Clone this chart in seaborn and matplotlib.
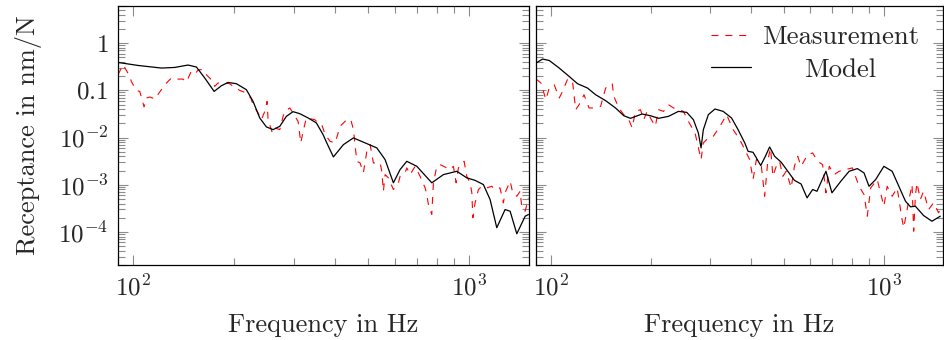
import numpy as np
import pandas as pd
import matplotlib
matplotlib.use("Agg")
import matplotlib.pyplot as plt
from matplotlib.ticker import NullFormatter, LogLocator
import seaborn as sns

# ---------------- data ----------------
left_model_f = [90.0, 103.3, 121.2, 132.8, 145.5, 154.1, 163.2, 174.0, 182.9, 191.5, 202.7,
                217.1, 227.3, 237.9, 249.0, 260.7, 273.0, 285.6, 299.0, 313.1, 331.5, 350.9,
                367.4, 376.8, 394.3, 422.4, 452.3, 495.9, 531.1, 562.1, 595.0, 623.0, 652.3,
                698.7, 774.3, 838.5, 919.3, 984.3, 1042, 1103, 1155, 1209, 1280, 1325, 1387,
                1469, 1502]
left_model_r = [0.389, 0.336, 0.296, 0.305, 0.343, 0.311, 0.182, 0.0948, 0.125, 0.147, 0.138,
                0.103, 0.0582, 0.0260, 0.0168, 0.0147, 0.0173, 0.0281, 0.0353, 0.0320, 0.0260,
                0.0204, 0.0115, 0.00769, 0.00389, 0.00708, 0.00982, 0.00743, 0.00603, 0.00341,
                0.00110, 0.00210, 0.00314, 0.00246, 0.00110, 0.00164, 0.00193, 0.00140,
                0.00124, 0.00101, 0.000486, 0.000123, 0.000299, 0.000275, 0.0000916,
                0.000216, 0.000234]

left_meas_f = [90.0, 93.2, 97.6, 98.6, 102.1, 104.5, 107.6, 109.3, 111.9, 115.8, 121.2, 124.0,
               129.8, 134.3, 140.6, 143.8, 148.3, 152.4, 155.9, 161.3, 165.0, 172.7, 174.7,
               178.7, 187.2, 193.7, 198.2, 207.5, 214.7, 223.8, 227.3, 235.2, 240.6, 246.3,
               250.2, 251.9, 259.5, 263.8, 273.0, 279.2, 282.5, 292.3, 299.0, 309.5, 315.3,
               320.3, 327.6, 347.0, 354.9, 364.1, 372.5, 385.4, 399.0, 412.9, 432.3, 444.3,
               452.3, 463.0, 473.5, 484.3, 495.9, 507.2, 518.8, 543.2, 549.5, 555.6, 562.1,
               575.0, 595.0, 615.8, 623.0, 644.8, 652.3, 667.3, 690.5, 714.5, 739.5, 748.2,
               756.5, 774.3, 782.9, 801.4, 819.7, 858.2, 877.9, 898.0, 914.9, 929.3, 966.2,
               984.3, 1007, 1019, 1026, 1042, 1066, 1091, 1129, 1169, 1194, 1236, 1265, 1280,
               1325, 1349, 1387, 1419, 1436, 1469, 1502]
left_meas_r = [0.214, 0.348, 0.197, 0.154, 0.0995, 0.0948, 0.0444, 0.0687, 0.0722, 0.0655,
               0.103, 0.131, 0.182, 0.173, 0.173, 0.150, 0.239, 0.214, 0.273, 0.273, 0.214,
               0.154, 0.121, 0.143, 0.143, 0.138, 0.121, 0.0995, 0.0903, 0.0687, 0.0496,
               0.0331, 0.0239, 0.0358, 0.0582, 0.0239, 0.0125, 0.0160, 0.0147, 0.0281, 0.0358,
               0.0423, 0.0331, 0.0220, 0.00769, 0.0135, 0.0260, 0.0239, 0.0204, 0.0187,
               0.0115, 0.00831, 0.00769, 0.0173, 0.0239, 0.0239, 0.0147, 0.00314, 0.00290,
               0.00179, 0.00511, 0.00708, 0.00290, 0.00290, 0.00193, 0.000729, 0.00164,
               0.00140, 0.000792, 0.00110, 0.00151, 0.00179, 0.00228, 0.00164, 0.00246,
               0.00151, 0.000860, 0.000621, 0.000381, 0.000234, 0.00110, 0.00246, 0.00267,
               0.00228, 0.00210, 0.00246, 0.00110, 0.00228, 0.00314, 0.00151, 0.00110,
               0.000675, 0.000200, 0.000414, 0.000792, 0.000929, 0.000860, 0.000929,
               0.000792, 0.000860, 0.000414, 0.000675, 0.00119, 0.000675, 0.000571,
               0.000729, 0.000325, 0.000275, 0.000528]

right_model_f = [90.2, 94.4, 98.8, 105.9, 113.4, 120.2, 128.7, 136.2, 146.0, 156.3, 165.5,
                 173.3, 187.8, 198.9, 210.5, 225.5, 241.5, 255.9, 267.8, 277.2, 282.4, 286.9,
                 297.0, 310.9, 329.1, 348.6, 364.8, 382.1, 390.9, 404.6, 414.0, 426.6, 440.6,
                 453.8, 469.7, 491.8, 514.5, 538.6, 563.9, 587.8, 610.9, 629.6, 669.9, 698.2,
                 742.6, 786.3, 832.4, 871.7, 902.2, 944.7, 1000, 1059, 1109, 1161, 1202, 1243,
                 1316, 1394, 1477]
right_model_r = [0.378, 0.459, 0.429, 0.296, 0.197, 0.138, 0.112, 0.0807, 0.0603, 0.0423,
                 0.0290, 0.0255, 0.0315, 0.0290, 0.0255, 0.0281, 0.0358, 0.0341, 0.0239,
                 0.0125, 0.00603, 0.0147, 0.0305, 0.0402, 0.0358, 0.0260, 0.0147, 0.00769,
                 0.00511, 0.00487, 0.00371, 0.00255, 0.00401, 0.00632, 0.00401, 0.00299,
                 0.00193, 0.00124, 0.00104, 0.000528, 0.000792, 0.000729, 0.00193, 0.000675,
                 0.00119, 0.00193, 0.00220, 0.00178, 0.000929, 0.00129, 0.00246, 0.00193,
                 0.000929, 0.000448, 0.000341, 0.000352, 0.000223, 0.000169, 0.000216]

right_meas_f = [90.2, 93.3, 96.6, 98.8, 102.3, 105.9, 108.4, 112.2, 116.1, 118.7, 121.5, 125.7,
                130.1, 133.2, 141.0, 146.0, 152.8, 154.5, 159.9, 165.5, 171.3, 175.4, 179.4,
                185.7, 190.0, 194.5, 198.9, 205.8, 210.5, 217.9, 225.5, 233.4, 241.5, 250.0,
                258.7, 270.9, 282.4, 286.9, 297.0, 307.4, 321.8, 337.0, 352.6, 369.2, 382.1,
                395.4, 404.6, 414.0, 428.5, 438.4, 448.4, 456.8, 464.1, 475.1, 486.1, 497.2,
                508.9, 526.7, 538.6, 551.0, 563.9, 590.2, 610.9, 632.3, 654.4, 669.9, 685.3,
                709.1, 733.9, 768.6, 804.4, 842.2, 871.7, 891.6, 912.7, 955.0, 1000, 1023,
                1059, 1096, 1134, 1147, 1187, 1215, 1229, 1243, 1257, 1287, 1316, 1362, 1410,
                1460, 1477]
right_meas_r = [0.173, 0.143, 0.0633, 0.112, 0.131, 0.0687, 0.0948, 0.173, 0.154, 0.0389,
                0.0496, 0.0807, 0.0423, 0.0423, 0.0457, 0.112, 0.138, 0.0743, 0.0423, 0.0305,
                0.0239, 0.0160, 0.0358, 0.0389, 0.0239, 0.0358, 0.0260, 0.0173, 0.0389,
                0.0358, 0.0496, 0.0423, 0.0389, 0.0358, 0.0220, 0.0125, 0.00341, 0.00769,
                0.00982, 0.0106, 0.0173, 0.0305, 0.0147, 0.00903, 0.00555, 0.00341, 0.00129,
                0.00341, 0.00246, 0.000571, 0.00341, 0.00603, 0.00151, 0.00246, 0.00314,
                0.00151, 0.00193, 0.000860, 0.00246, 0.00401, 0.00246, 0.00435, 0.00472,
                0.00314, 0.00267, 0.000675, 0.00246, 0.00164, 0.00193, 0.00210, 0.00228,
                0.000929, 0.000621, 0.000216, 0.000860, 0.00129, 0.000352, 0.000929,
                0.000571, 0.000860, 0.000184, 0.000123, 0.000448, 0.00101, 0.000104,
                0.000571, 0.00110, 0.000486, 0.000729, 0.000299, 0.000414, 0.000255,
                0.000299]

y_ticks = [1, 0.1, 1e-2, 1e-3, 1e-4]
y_tick_labels = ["$1$", "$0.1$", "$10^{-2}$", "$10^{-3}$", "$10^{-4}$"]
x_ticks = [100, 1000]
x_tick_labels = ["$10^{2}$", "$10^{3}$"]
legend_labels = ["Measurement", "Model"]
x_label = "Frequency in Hz"
y_label = "Receptance in nm/N"

# ---------------- style ----------------
sns.set_theme(style="ticks")
plt.rcParams.update({
    "font.family": ["cmr10", "DejaVu Serif"],
    "mathtext.fontset": "cm",
    "axes.formatter.use_mathtext": True,
    "axes.unicode_minus": False,
    "lines.scale_dashes": False,
    "axes.edgecolor": "black",
    "axes.linewidth": 0.9,
})

FS = 18
LFS = 19
TICK_COLOR = "#8c8c8c"

fig = plt.figure(figsize=(9.45, 3.4), dpi=100)
ax_l = fig.add_axes([118 / 945, 75 / 340, 410.7 / 945, 259 / 340])
ax_r = fig.add_axes([535.7 / 945, 75 / 340, 407.3 / 945, 259 / 340], sharey=ax_l)

panels = [
    (ax_l, left_meas_f, left_meas_r, left_model_f, left_model_r),
    (ax_r, right_meas_f, right_meas_r, right_model_f, right_model_r),
]

for ax, mf, mr, sf, sr in panels:
    meas = pd.DataFrame({"f": mf, "r": mr})
    model = pd.DataFrame({"f": sf, "r": sr})
    sns.lineplot(data=meas, x="f", y="r", ax=ax, color="#ff0000", linewidth=0.8,
                 linestyle=(0, (5, 5)), estimator=None, sort=False,
                 label=legend_labels[0])
    sns.lineplot(data=model, x="f", y="r", ax=ax, color="black", linewidth=0.9,
                 estimator=None, sort=False, label=legend_labels[1])
    ax.set_xscale("log")
    ax.set_yscale("log")
    ax.set_xlim(90, 1505)
    ax.set_ylim(2.0e-5, 6.1)
    ax.set_xticks(x_ticks)
    ax.set_xticklabels(x_tick_labels)
    ax.xaxis.set_minor_locator(LogLocator(base=10, subs=np.arange(2, 10)))
    ax.xaxis.set_minor_formatter(NullFormatter())
    ax.yaxis.set_minor_locator(LogLocator(base=10, subs=np.arange(2, 10), numticks=20))
    ax.yaxis.set_minor_formatter(NullFormatter())
    ax.tick_params(which="both", direction="in", top=True, right=True,
                   color=TICK_COLOR, width=0.8, labelsize=FS)
    ax.tick_params(which="major", length=7.5, pad=7)
    ax.tick_params(which="minor", length=5)
    for s in ax.spines.values():
        s.set_color("black")
        s.set_linewidth(0.9)
    ax.set_xlabel(x_label, fontsize=LFS, labelpad=9)
    if ax.get_legend() is not None:
        ax.get_legend().remove()

ax_l.set_yticks(y_ticks)
ax_l.set_yticklabels(y_tick_labels)
ax_l.yaxis.set_minor_formatter(NullFormatter())
ax_l.set_ylabel(y_label, fontsize=LFS, labelpad=12)
ax_r.set_ylabel("")
ax_r.tick_params(axis="y", which="both", labelleft=False)

leg = ax_r.legend(loc="upper right", bbox_to_anchor=(0.941, 0.926), frameon=False,
                  fontsize=19.3, borderpad=0, borderaxespad=0,
                  handlelength=1.49, handletextpad=0.41, labelspacing=0.33)

# centre the shorter legend label under the longer one (as in the reference)
fig.canvas.draw()
texts = leg.get_texts()
w0 = texts[0].get_window_extent().width
w1 = texts[1].get_window_extent().width
texts[1].set_x((w0 - w1) / 2)

fig.savefig("out.png", dpi=100)
